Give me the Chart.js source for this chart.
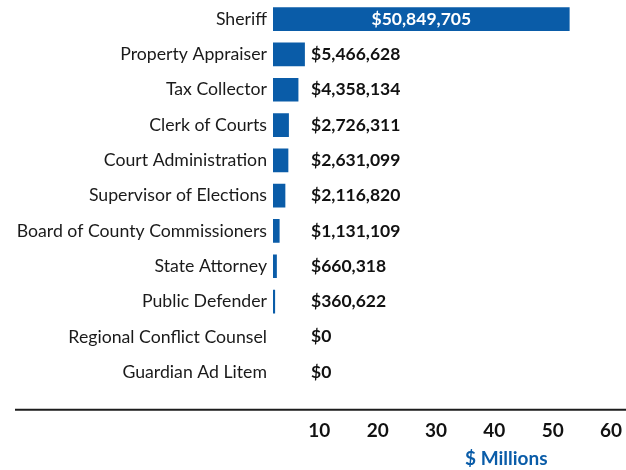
<!DOCTYPE html>
<html>
<head>
<meta charset="utf-8">
<script src="https://cdn.jsdelivr.net/npm/chart.js@4.4.0/dist/chart.umd.min.js"></script>
<style>
  html, body { margin: 0; padding: 0; background: #ffffff; }
  #wrap { width: 626px; height: 470px; }
</style>
</head>
<body>
<div id="wrap"><canvas id="c" width="626" height="470"></canvas></div>
<script>
const categories = [
  "Sheriff",
  "Property Appraiser",
  "Tax Collector",
  "Clerk of Courts",
  "Court Administration",
  "Supervisor of Elections",
  "Board of County Commissioners",
  "State Attorney",
  "Public Defender",
  "Regional Conflict Counsel",
  "Guardian Ad Litem"
];
const values = [50849705, 5466628, 4358134, 2726311, 2631099, 2116820, 1131109, 660318, 360622, 0, 0];
const xTicks = [10, 20, 30, 40, 50, 60];
const axisTitle = "$ Millions";

const BLUE = "#0a5ca8";
const valuesMillions = values.map(v => v / 1e6);
const fmt = v => "$" + v.toLocaleString("en-US");

const decorPlugin = {
  id: "decor",
  afterDraw(chart) {
    const ctx = chart.ctx;
    const area = chart.chartArea;
    const xs = chart.scales.x;
    ctx.save();
    // horizontal rule across the bottom
    ctx.strokeStyle = "#1c1c1c";
    ctx.lineWidth = 2;
    ctx.beginPath();
    ctx.moveTo(15, area.bottom + 20);
    ctx.lineTo(chart.width, area.bottom + 20);
    ctx.stroke();
    // axis title
    ctx.fillStyle = BLUE;
    ctx.font = "bold 19px Lato";
    ctx.textAlign = "center";
    ctx.textBaseline = "middle";
    ctx.fillText(axisTitle, xs.getPixelForValue(40), area.bottom + 69);
    ctx.restore();
  },
  afterDatasetsDraw(chart) {
    const ctx = chart.ctx;
    const meta = chart.getDatasetMeta(0);
    const xs = chart.scales.x;
    ctx.save();
    ctx.font = "bold 17.5px Lato";
    ctx.textBaseline = "middle";
    meta.data.forEach((bar, i) => {
      const txt = fmt(values[i]);
      if (i === 0) {
        ctx.fillStyle = "#ffffff";
        ctx.textAlign = "center";
        ctx.fillText(txt, (bar.x + bar.base) / 2, bar.y);
      } else {
        ctx.fillStyle = "#111111";
        ctx.textAlign = "left";
        ctx.fillText(txt, xs.getPixelForValue(0) + 38, bar.y);
      }
    });
    ctx.restore();
  }
};

new Chart(document.getElementById("c"), {
  type: "bar",
  data: {
    labels: categories,
    datasets: [{
      data: valuesMillions,
      backgroundColor: BLUE,
      borderWidth: 0,
      categoryPercentage: 1,
      barPercentage: 0.67
    }]
  },
  options: {
    indexAxis: "y",
    responsive: false,
    animation: false,
    layout: { padding: { top: 1.5, right: 3, bottom: 27.4, left: 0 } },
    plugins: { legend: { display: false }, tooltip: { enabled: false } },
    scales: {
      x: {
        min: 0,
        max: 60,
        grid: { display: false, drawTicks: false },
        border: { display: false },
        afterBuildTicks(scale) { scale.ticks = xTicks.map(v => ({ value: v })); },
        afterFit(scale) { scale.paddingLeft = 0; scale.paddingRight = 0; scale.height = 52.8; },
        ticks: {
          padding: 30,
          labelOffset: -12,
          maxRotation: 0,
          autoSkip: false,
          color: "#111111",
          font: { family: "Lato", size: 19, weight: "bold", lineHeight: 1.2 }
        }
      },
      y: {
        grid: { display: false, drawTicks: false },
        border: { display: false },
        afterFit(scale) { scale.width = 273; scale.paddingTop = 0; scale.paddingBottom = 0; },
        ticks: {
          padding: 6,
          autoSkip: false,
          color: "#1a1a1a",
          font: { family: "Lato", size: 17.7, lineHeight: 1.2 }
        }
      }
    }
  },
  plugins: [decorPlugin]
});
</script>
</body>
</html>
